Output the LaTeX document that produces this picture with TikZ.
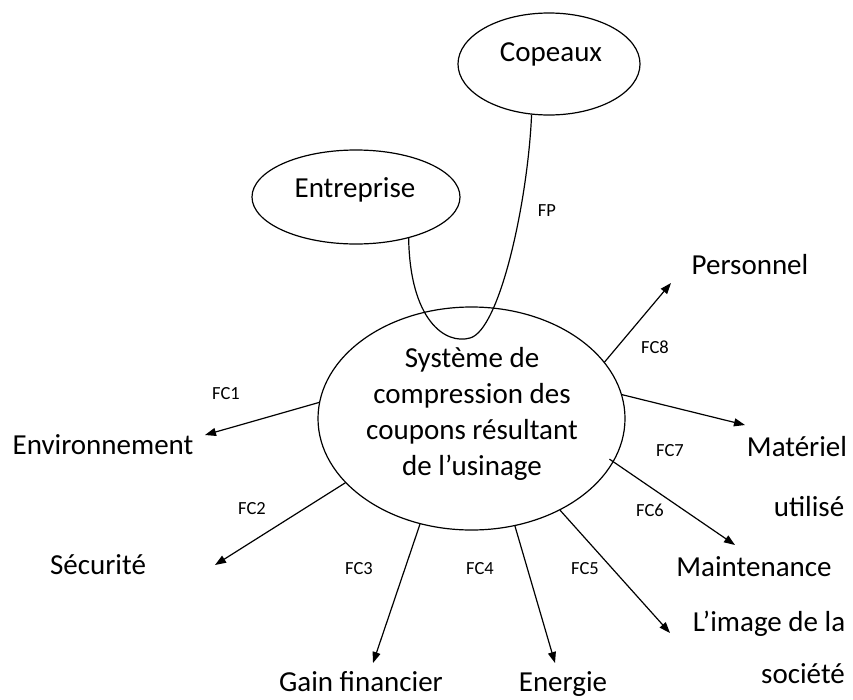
\documentclass[tikz,border=0pt]{standalone}
\usepackage{fontspec}
\setmainfont{Carlito}
\usetikzlibrary{shapes.geometric,arrows.meta}
\begin{document}
\begin{tikzpicture}[x=1pt,y=-1pt,
  oval/.style={draw, ellipse, line width=1.2pt, inner sep=0pt},
  lbl/.style={font=\fontsize{29}{36}\selectfont, inner sep=0pt, text height=18.5pt, text depth=0pt, anchor=center},
  fc/.style={font=\fontsize{18.5}{20}\selectfont, inner sep=0pt, text height=12pt, text depth=0pt, anchor=center},
  arr/.style={line width=1.2pt, -{Triangle[length=11pt,width=8pt]}},
  link/.style={line width=1.2pt}]
\useasboundingbox (0,0) rectangle (853,699);

% ellipses
\node[oval, minimum width=182pt, minimum height=102pt] (cop) at (549,64) {};
\node[lbl] (copt) at (551,52) {Copeaux};
\node[oval, minimum width=208pt, minimum height=94pt] (ent) at (356,197) {};
\node[lbl] (entt) at (355,188) {Entreprise};
\node[oval, minimum width=307pt, minimum height=223pt] (sys) at (471.5,418.5) {};
\node[font=\fontsize{29}{36}\selectfont, inner sep=0pt, align=center] (syst) at (472,414) {Système de\\compression des\\coupons résultant\\de l’usinage};

% FP link
\coordinate (dip) at (470,338);
\draw[link] (ent.-38) .. controls (410,320) and (445,345) .. (dip) .. controls (500,330) and (528,200) .. (cop.-109);
\node[fc] (fp) at (547,210) {FP};

% free ends of the arrows
\coordinate (e1) at (205,435);
\coordinate (e2) at (215,565);
\coordinate (e3) at (373,663);
\coordinate (e4) at (555,663);
\coordinate (e5) at (670,633);
\coordinate (e6) at (735,545);
\coordinate (e7) at (745,425);
\coordinate (e8) at (671,283);

\draw[arr] (sys.174) -- (e1);
\draw[arr] (sys.207) -- (e2);
\draw[arr] (sys.244) -- (e3);
\draw[arr] (sys.292) -- (e4);
\draw[arr] (sys.314) -- (e5);
\draw[arr, shorten <=-5pt] (sys.343) -- (e6);
\draw[arr] (sys.9.5) -- (e7);
\draw[arr] (sys.23.5) -- (e8);

% arrow labels
\node[fc] (fc1) at (226,393) {FC1};
\node[fc] (fc2) at (252,508) {FC2};
\node[fc] (fc3) at (359,568) {FC3};
\node[fc] (fc4) at (480,568) {FC4};
\node[fc] (fc5) at (585,568) {FC5};
\node[fc] (fc6) at (650,510) {FC6};
\node[fc] (fc7) at (670,450) {FC7};
\node[fc] (fc8) at (655,347) {FC8};

% outer labels
\node[lbl] (env) at (103,445) {Environnement};
\node[lbl] (sec) at (98,565) {Sécurité};
\node[lbl] (gain) at (361,682) {Gain financier};
\node[lbl] (ener) at (563,682) {Energie};
\node[lbl] (img1) at (769,622) {L’image de la};
\node[lbl] (img2) at (803,674) {société};
\node[lbl] (maint) at (754,567) {Maintenance};
\node[lbl] (mat1) at (797,447) {Matériel};
\node[lbl] (mat2) at (809,507) {utilisé};
\node[lbl] (pers) at (750,265) {Personnel};
\end{tikzpicture}
\end{document}
